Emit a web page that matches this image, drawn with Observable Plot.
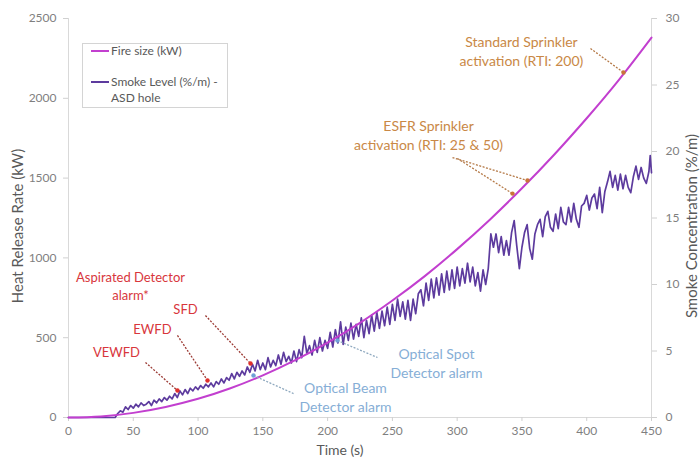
<!DOCTYPE html>
<html>
<head>
<meta charset="utf-8">
<script src="https://cdn.jsdelivr.net/npm/d3@7"></script>
<script src="https://cdn.jsdelivr.net/npm/@observablehq/plot@0.6"></script>
<style>
  body { margin: 0; background: #fff; }
  #wrap { position: relative; width: 700px; height: 462px; font-family: Lato, "Open Sans", sans-serif; }
  #legend { position: absolute; left: 82px; top: 43px; width: 144px; height: 63px; border: 1px solid #d4d4d4; background: #fff; color: #595959; font-size: 12px; }
  .lg { position: absolute; left: 8px; width: 18px; height: 2px; }
  .lt { position: absolute; left: 28px; line-height: 16px; }
</style>
</head>
<body>
<div id="wrap">
  <div id="chart"></div>
  <div id="legend">
    <div class="lg" style="top:6px;background:#c23fcf"></div>
    <div class="lt" style="top:-1px">Fire size (kW)</div>
    <div class="lg" style="top:37px;background:#5d3b9e"></div>
    <div class="lt" style="top:30px">Smoke Level (%/m) -<br>ASD hole</div>
  </div>
</div>
<script>
// Fire size (kW)
const fireTime = [0, 25, 50, 75, 100, 125, 150, 175, 200, 225, 250, 275, 300, 325, 350, 375, 400, 425, 450];
const fireKW   = [0, 7, 29, 66, 117, 183, 264, 359, 469, 593, 733, 886, 1055, 1238, 1436, 1648, 1875, 2117, 2380];

// Smoke level (%/m)
const smokeTime = [
  0, 36, 38, 40, 42, 44, 46, 48, 50, 52, 54, 56, 58, 60, 62, 64, 66, 68, 70, 72, 74, 76, 78, 80, 82, 84, 86, 88, 90, 92, 94, 96, 98, 100,
  102, 104, 106, 108, 110, 112, 114, 116, 118, 120, 122, 124, 126, 128, 130, 132, 134, 136, 138, 140, 142, 144, 146, 148, 150,
  152, 154, 156, 158, 160, 162, 164, 166, 168, 170, 172, 174, 176, 178, 180, 182, 184, 186, 188, 190, 192, 194, 196, 198, 200,
  202, 204, 206, 208, 210, 212, 214, 216, 218, 220, 222, 224, 226, 228, 230, 232, 234, 236, 238, 240, 242, 244, 246, 248, 250,
  252, 254, 256, 258, 260, 262, 264, 266, 268, 270, 272, 274, 276, 278, 280, 282, 284, 286, 288, 290, 292, 294, 296, 298, 300,
  302, 304, 306, 308, 310, 312, 314, 316, 318, 320, 322, 324, 326, 328, 330, 332, 334, 336, 338, 340, 342, 344, 346, 348, 350,
  352, 354, 356, 358, 360, 362, 364, 366, 368, 370, 372, 374, 376, 378, 380, 382, 384, 386, 388, 390, 392, 394, 396, 398, 400,
  402, 404, 406, 408, 410, 412, 414, 416, 418, 420, 422, 424, 426, 428, 430, 432, 434, 436, 438, 440, 442, 444, 446, 448, 449, 450];
const smokeLevel = [
  0, 0, 0.3, 0.5, 0.4, 0.8, 0.6, 0.9, 0.7, 1.0, 0.8, 1.1, 0.9, 1.0, 1.2, 0.9, 1.3, 1.1, 1.4, 1.2, 1.5, 1.3, 1.6, 1.4, 1.8, 1.5, 2.0, 1.7, 2.1, 1.8, 2.2, 2.0, 2.3, 2.1,
  2.4, 2.2, 2.5, 2.3, 2.6, 2.3, 2.7, 2.5, 2.9, 2.6, 3.0, 2.8, 3.3, 2.9, 3.4, 3.1, 3.5, 3.2, 3.8, 3.4, 4.0, 3.5, 4.3, 3.6, 4.1,
  3.6, 4.5, 3.8, 4.3, 3.9, 4.7, 4.0, 4.9, 4.2, 4.6, 4.1, 5.0, 4.2, 5.1, 4.5, 6.1, 4.8, 5.4, 4.7, 5.8, 4.9, 6.0, 5.0, 5.8, 5.2,
  6.4, 5.3, 6.6, 5.6, 7.2, 5.5, 6.8, 5.8, 7.1, 5.9, 7.0, 6.1, 7.5, 6.0, 7.3, 6.3, 7.7, 6.5, 7.9, 6.7, 8.0, 6.9, 8.3, 7.0, 8.5,
  7.3, 8.9, 7.6, 8.7, 7.4, 8.8, 7.3, 8.9, 7.8, 9.3, 9.6, 8.4, 10.1, 8.8, 10.4, 9.0, 10.5, 9.2, 10.8, 9.4, 11.0, 9.6, 11.1, 9.7, 11.3,
  9.9, 11.2, 10.1, 11.6, 10.2, 11.3, 9.9, 10.9, 9.5, 11.1, 10.0, 11.2, 13.8, 12.8, 13.8, 12.4, 13.6, 12.2, 13.3, 12.2, 13.9, 14.8, 12.9, 11.2, 12.8,
  13.9, 14.5, 12.7, 11.9, 13.8, 14.5, 14.9, 13.6, 15.1, 15.5, 14.3, 14.0, 15.3, 14.2, 15.8, 14.7, 14.5, 15.8, 14.7, 16.1, 14.9, 14.3, 15.9, 16.1, 16.7,
  15.6, 16.5, 16.8, 15.7, 17.3, 15.4, 17.0, 17.7, 18.5, 17.3, 18.2, 17.1, 18.3, 17.2, 18.2, 17.3, 16.9, 18.1, 18.9, 17.9, 18.8, 18.0, 17.6, 18.5, 19.7, 18.4];

// Axis ticks
const timeTicks = [0, 50, 100, 150, 200, 250, 300, 350, 400, 450];
const hrrTicks = [0, 500, 1000, 1500, 2000, 2500];
const smokeTicks = [0, 5, 10, 15, 20, 25, 30];

// Annotation labels (anchored in data units: time s, kW)
const annoLabel = ["Aspirated Detector\nalarm*", "SFD", "EWFD", "VEWFD",
  "Optical Beam\nDetector alarm", "Optical Spot\nDetector alarm",
  "ESFR Sprinkler\nactivation (RTI: 25 & 50)", "Standard Sprinkler\nactivation (RTI: 200)"];
const annoGroup = ["red", "red", "red", "red", "blue", "blue", "orange", "orange"];
const annoTime = [47.9, 90.3, 64.8, 37, 213.8, 284, 277.9, 349.6];
const annoKW = [827, 683, 558, 414, 132, 345, 1776, 2300];

// Pointer lines (from -> to, data units)
const ptrGroup = ["red", "red", "red", "orange", "orange", "orange", "blue", "blue"];
const ptrT1 = [59.4, 84.1, 105.7, 296.4, 300.2, 402.9, 142.8, 207.6];
const ptrK1 = [345, 514, 639, 1629, 1623, 2312, 263, 482];
const ptrT2 = [84.1, 107.3, 140.5, 354.3, 342.7, 428.4, 173.7, 238.5];
const ptrK2 = [169, 232, 338, 1485, 1403, 2162, 150, 376];

const K = 2500 / 30; // smoke %/m -> kW axis

const fire = fireTime.map((t, i) => ({t, v: fireKW[i]}));
const smoke = smokeTime.map((t, i) => ({t, v: smokeLevel[i] * K}));
const annos = annoLabel.map((s, i) => ({s, g: annoGroup[i], t: annoTime[i], v: annoKW[i]}));
const ptrs = ptrGroup.map((g, i) => ({g, t1: ptrT1[i], k1: ptrK1[i], t2: ptrT2[i], k2: ptrK2[i]}));

const textColor = {red: "#d8363c", blue: "#86aed6", orange: "#c98846"};
const ptrColor = {red: "#9c3b35", blue: "#8fa9bf", orange: "#b57a48"};
const headColor = {red: "#e0302c", blue: "#6fa0d8", orange: "#c9743a"};

const chart = Plot.plot({
  width: 700,
  height: 462,
  marginLeft: 68,
  marginRight: 49,
  marginTop: 18,
  marginBottom: 45,
  style: {fontFamily: "Lato, 'Open Sans', sans-serif", background: "#fff"},
  x: {domain: [0, 450]},
  y: {domain: [0, 2500]},
  marks: [
    Plot.ruleY([0], {stroke: "#d9d9d9"}),
    Plot.ruleX([0], {stroke: "#d9d9d9"}),
    Plot.ruleX([450], {stroke: "#d9d9d9"}),
    Plot.axisX({ticks: timeTicks, tickFormat: d => String(d), tickSize: 4, tickPadding: 5, label: null, fontSize: 12, stroke: "#d0d0d0", fill: "#7f7f7f"}),
    Plot.axisY({ticks: hrrTicks, tickFormat: d => String(d), tickSize: 5, tickPadding: 7, label: null, fontSize: 12, stroke: "#d0d0d0", fill: "#7f7f7f"}),
    Plot.axisY({anchor: "right", ticks: smokeTicks.map(d => d * K), tickFormat: d => String(Math.round(d / K)), tickSize: 5, tickPadding: 9, label: null, fontSize: 12, stroke: "#d0d0d0", fill: "#7f7f7f"}),
    Plot.text(["Heat Release Rate (kW)"], {frameAnchor: "left", textAnchor: "middle", dx: -50, dy: 8, rotate: -90, fontSize: 15, fill: "#595959"}),
    Plot.text(["Smoke Concentration (%/m)"], {frameAnchor: "right", textAnchor: "middle", dx: 41, dy: 8, rotate: -90, fontSize: 15, fill: "#595959"}),
    Plot.text(["Time (s)"], {frameAnchor: "bottom", dx: -20, dy: 37, fontSize: 14, fill: "#595959"}),
    Plot.line(smoke, {x: "t", y: "v", stroke: "#5d3b9e", strokeWidth: 1.7}),
    Plot.line(fire, {x: "t", y: "v", curve: "natural", stroke: "#c23fcf", strokeWidth: 2}),
    Plot.link(ptrs, {x1: "t1", y1: "k1", x2: "t2", y2: "k2", stroke: d => ptrColor[d.g], strokeWidth: 1.3, strokeDasharray: "2,1.5"}),
    Plot.dot(ptrs, {x: d => d.g === "blue" ? d.t1 : d.t2, y: d => d.g === "blue" ? d.k1 : d.k2, r: 2.2, fill: d => headColor[d.g], stroke: "none"}),
    Plot.text(annos, {x: "t", y: "v", text: "s", fill: d => textColor[d.g], fontSize: d => d.g === "red" ? 13 : 14, fontWeight: d => d.g === "red" ? "bold" : "normal", lineHeight: 1.35, lineAnchor: "middle"})
  ]
});
document.getElementById("chart").appendChild(chart);
</script>
</body>
</html>
